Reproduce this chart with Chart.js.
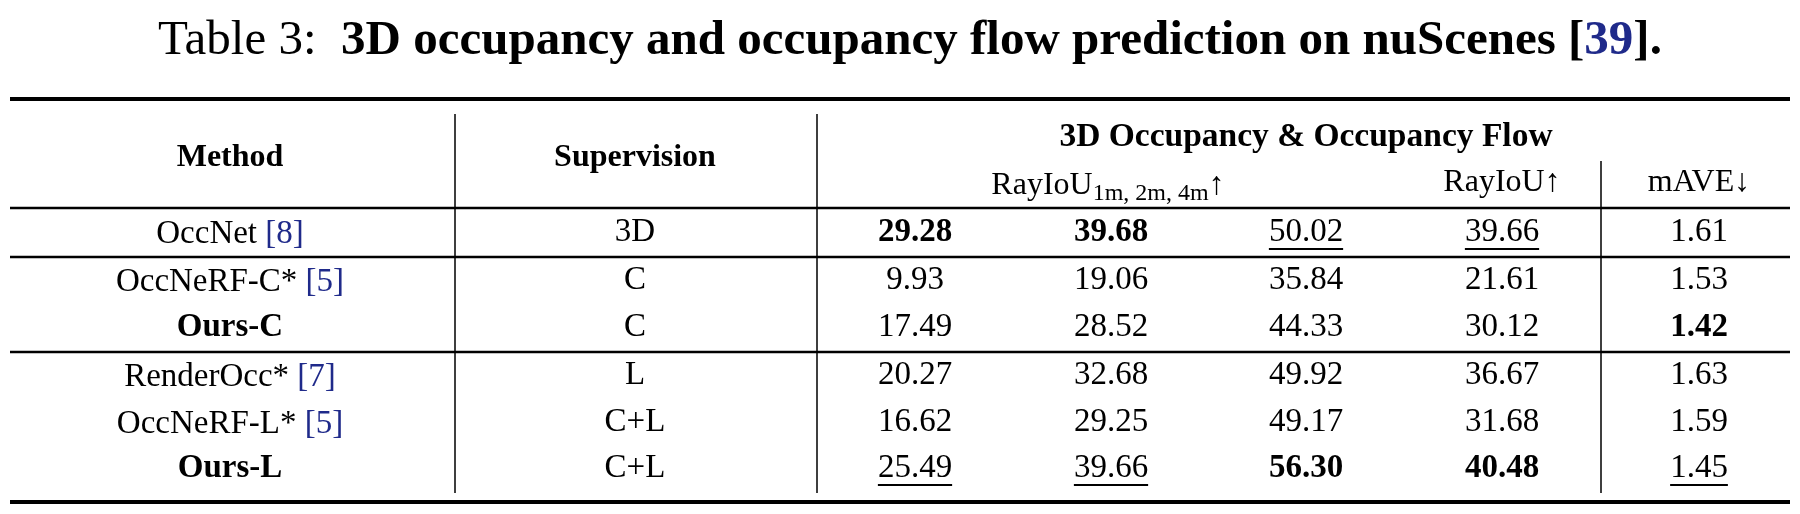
<!DOCTYPE html>
<html>
<head>
<meta charset="utf-8">
<script src="https://cdn.jsdelivr.net/npm/chart.js@4.4.1/dist/chart.umd.min.js"></script>
<style>
html, body { margin: 0; padding: 0; background: #fff; }
#wrap { width: 1800px; height: 514px; }
</style>
</head>
<body>
<div id="wrap"><canvas id="tableChart"></canvas></div>
<script>
// table values
var methods = ['OccNet', 'OccNeRF-C*', 'Ours-C', 'RenderOcc*', 'OccNeRF-L*', 'Ours-L'];
var refs = ['[8]', '[5]', '', '[7]', '[5]', ''];
var boldMethod = [false, false, true, false, false, true];
var supervision = ['3D', 'C', 'C', 'L', 'C+L', 'C+L'];
var rayIoU1m = ['29.28', '9.93', '17.49', '20.27', '16.62', '25.49'];
var rayIoU2m = ['39.68', '19.06', '28.52', '32.68', '29.25', '39.66'];
var rayIoU4m = ['50.02', '35.84', '44.33', '49.92', '49.17', '56.30'];
var rayIoU = ['39.66', '21.61', '30.12', '36.67', '31.68', '40.48'];
var mAVE = ['1.61', '1.53', '1.42', '1.63', '1.59', '1.45'];
// b = bold (best), u = underline (second)
var marks1m = ['b', '', '', '', '', 'u'];
var marks2m = ['b', '', '', '', '', 'u'];
var marks4m = ['u', '', '', '', '', 'b'];
var marksRay = ['u', '', '', '', '', 'b'];
var marksAVE = ['', '', 'b', '', '', 'u'];

// layout in the 1800x514 coordinate system of the scales
var colX = [230, 635, 915, 1111, 1306, 1502, 1699];
var rowY = [232, 280, 327, 375, 422, 468];
var SERIF = '"Liberation Serif", "Times New Roman", serif';
var LINK = '#1f2a8a';

var tablePlugin = {
    id: 'tablePlugin',
    afterDraw: function (chart) {
        var ctx = chart.ctx;
        var xs = chart.scales.x, ys = chart.scales.y;
        function X(v) { return xs.getPixelForValue(v); }
        function Y(v) { return ys.getPixelForValue(v); }

        function hline(y, x0, x1, w) {
            ctx.fillStyle = '#000';
            ctx.fillRect(X(x0), Y(y) - w / 2, X(x1) - X(x0), w);
        }
        function vline(x, y0, y1) {
            ctx.fillStyle = '#000';
            ctx.fillRect(X(x) - 0.75, Y(y0), 1.5, Y(y1) - Y(y0));
        }
        function text(str, x, y, size, bold, color, align) {
            ctx.font = (bold ? 'bold ' : '') + size + 'px ' + SERIF;
            ctx.fillStyle = color || '#000';
            ctx.textAlign = align || 'center';
            ctx.textBaseline = 'middle';
            ctx.fillText(str, X(x), Y(y));
            return ctx.measureText(str).width;
        }
        function cell(str, mark, x, y) {
            var w = text(str, x, y, 33, mark === 'b');
            if (mark === 'u') {
                ctx.fillRect(X(x) - w / 2, Y(y) + 16, w, 2);
            }
        }
        // pieces of text laid out one after another, centred on x
        function runs(parts, x, y) {
            var total = 0;
            parts.forEach(function (p) {
                ctx.font = (p.bold ? 'bold ' : '') + p.size + 'px ' + SERIF;
                p.w = ctx.measureText(p.t).width;
                total += p.w;
            });
            var cx = X(x) - total / 2;
            parts.forEach(function (p) {
                ctx.font = (p.bold ? 'bold ' : '') + p.size + 'px ' + SERIF;
                ctx.fillStyle = p.color || '#000';
                ctx.textAlign = 'left';
                ctx.textBaseline = 'alphabetic';
                ctx.fillText(p.t, cx, Y(y) + (p.dy || 0));
                cx += p.w;
            });
        }

        // title
        runs([
            { t: 'Table 3:  ', size: 49 },
            { t: '3D occupancy and occupancy flow prediction on nuScenes [', size: 49, bold: true },
            { t: '39', size: 49, bold: true, color: LINK },
            { t: '].', size: 49, bold: true }
        ], 910, 54);

        // rules
        hline(99, 10, 1790, 4);
        hline(208, 10, 1790, 2.5);
        hline(257, 10, 1790, 2.5);
        hline(352, 10, 1790, 2.5);
        hline(502, 10, 1790, 4);
        vline(455, 114, 493);
        vline(817, 114, 493);
        vline(1601, 161, 493);

        // header
        text('Method', colX[0], 158, 32, true);
        text('Supervision', colX[1], 158, 32, true);
        text('3D Occupancy & Occupancy Flow', 1306, 137, 33.5, true);
        runs([
            { t: 'RayIoU', size: 32 },
            { t: '1m, 2m, 4m', size: 24, dy: 6 },
            { t: '\u2191', size: 32 }
        ], 1108, 194);
        text('RayIoU\u2191', colX[5], 183, 32);
        text('mAVE\u2193', colX[6], 183, 32);

        // body
        for (var i = 0; i < methods.length; i++) {
            var y = rowY[i];
            if (refs[i]) {
                runs([
                    { t: methods[i] + ' ', size: 33, bold: boldMethod[i] },
                    { t: refs[i], size: 33, color: LINK }
                ], colX[0], y + 11);
            } else {
                text(methods[i], colX[0], y, 33, boldMethod[i]);
            }
            text(supervision[i], colX[1], y, 33);
            cell(rayIoU1m[i], marks1m[i], colX[2], y);
            cell(rayIoU2m[i], marks2m[i], colX[3], y);
            cell(rayIoU4m[i], marks4m[i], colX[4], y);
            cell(rayIoU[i], marksRay[i], colX[5], y);
            cell(mAVE[i], marksAVE[i], colX[6], y);
        }
    }
};

new Chart(document.getElementById('tableChart'), {
    type: 'scatter',
    data: { datasets: [{ data: [], pointRadius: 0 }] },
    options: {
        responsive: true,
        maintainAspectRatio: false,
        animation: false,
        layout: { padding: 0 },
        plugins: { legend: { display: false }, tooltip: { enabled: false } },
        scales: {
            x: { type: 'linear', min: 0, max: 1800, display: false },
            y: { type: 'linear', min: 0, max: 514, reverse: true, display: false }
        }
    },
    plugins: [tablePlugin]
});
</script>
</body>
</html>
